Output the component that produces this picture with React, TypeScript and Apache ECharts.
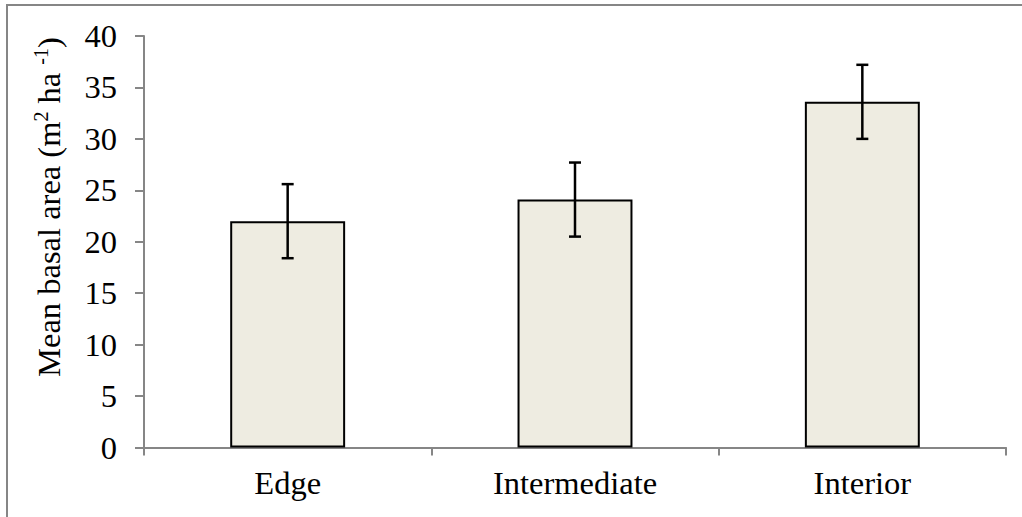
import React, { useEffect, useRef } from "react";
import * as echarts from "echarts";

const categories = ["Edge", "Intermediate", "Interior"];
const meanBasalArea = [22.0, 24.1, 33.6];
const errorMargin = [3.6, 3.6, 3.6];
const yTicks = { min: 0, max: 40, interval: 5 };

const FONT = "'Liberation Serif', 'Times New Roman', serif";
const FS = 32.5;
const AXIS_COLOR = "#868686";

export default function App() {
  const ref = useRef<HTMLDivElement>(null);

  useEffect(() => {
    if (!ref.current) return;
    const chart = echarts.init(ref.current, undefined, { renderer: "svg" });
    const errData = categories.map((_, i) => [
      i,
      meanBasalArea[i] - errorMargin[i],
      meanBasalArea[i] + errorMargin[i],
    ]);
    chart.setOption({
      animation: false,
      backgroundColor: "#ffffff",
      grid: { left: 144, top: 36, width: 862, height: 411.5, containLabel: false },
      xAxis: {
        type: "category",
        data: categories,
        boundaryGap: true,
        axisLine: { show: true, lineStyle: { color: AXIS_COLOR, width: 2 } },
        axisTick: { show: true, length: 8, lineStyle: { color: AXIS_COLOR, width: 2 } },
        axisLabel: { color: "#000", fontFamily: FONT, fontSize: FS, margin: 19 },
        splitLine: { show: false },
      },
      yAxis: {
        type: "value",
        min: yTicks.min,
        max: yTicks.max,
        interval: yTicks.interval,
        axisLine: { show: true, lineStyle: { color: AXIS_COLOR, width: 2 } },
        axisTick: { show: true, length: 9, lineStyle: { color: AXIS_COLOR, width: 2 } },
        axisLabel: { color: "#000", fontFamily: FONT, fontSize: FS, margin: 27 },
        splitLine: { show: false },
      },
      graphic: [
        {
          type: "rect",
          shape: { x: 7, y: 5, width: 1040, height: 540 },
          style: { fill: "none", stroke: AXIS_COLOR, lineWidth: 2 },
          silent: true,
          z: -10,
        },
        {
          type: "text",
          x: 49,
          y: 207,
          rotation: Math.PI / 2,
          style: {
            text: "{n|Mean basal area (m}{s|2}{n| ha }{s|-1}{n|)}",
            align: "center",
            verticalAlign: "middle",
            fill: "#000",
            rich: {
              n: { fontFamily: FONT, fontSize: FS, fill: "#000", lineHeight: 36 },
              s: { fontFamily: FONT, fontSize: 20, fill: "#000", lineHeight: 36, verticalAlign: "top", padding: [0, 0, 13, 0] },
            },
          },
        },
      ],
      series: [
        {
          type: "bar",
          data: meanBasalArea,
          barWidth: "40%",
          itemStyle: { color: "#EEECE1", borderColor: "#000", borderWidth: 2 },
        },
        {
          type: "custom",
          data: errData,
          z: 5,
          renderItem: (params: any, api: any) => {
            const x = api.value(0);
            const lo = api.coord([x, api.value(1)]);
            const hi = api.coord([x, api.value(2)]);
            const hw = 6;
            const style = { stroke: "#000", lineWidth: 2.5 };
            return {
              type: "group",
              children: [
                { type: "line", shape: { x1: hi[0], y1: hi[1], x2: lo[0], y2: lo[1] }, style },
                { type: "line", shape: { x1: hi[0] - hw, y1: hi[1], x2: hi[0] + hw, y2: hi[1] }, style },
                { type: "line", shape: { x1: lo[0] - hw, y1: lo[1], x2: lo[0] + hw, y2: lo[1] }, style },
              ],
            };
          },
        },
      ],
    });
    return () => chart.dispose();
  }, []);

  return (
    <div
      ref={ref}
      style={{ position: "fixed", left: 0, top: 0, width: 1022, height: 517 }}
    />
  );
}
